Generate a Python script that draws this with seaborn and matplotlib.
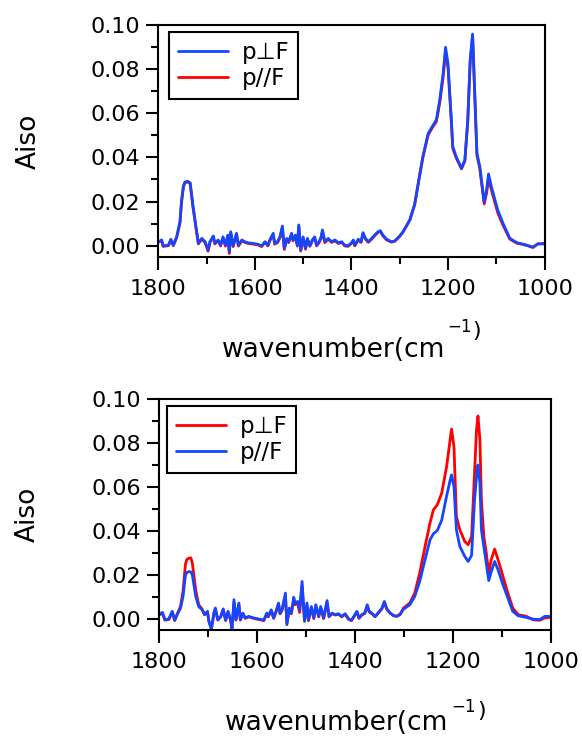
import matplotlib
matplotlib.use("Agg")
import matplotlib.pyplot as plt
import seaborn as sns
import pandas as pd
from matplotlib.ticker import MultipleLocator, FormatStrFormatter

# ---------------- data ----------------
top_wavenumber = [
    1800, 1793, 1790, 1779, 1774, 1769, 1762, 1755, 1752, 1748,
    1745, 1740, 1734, 1728, 1721, 1717, 1710, 1703, 1697, 1693,
    1686, 1683, 1676, 1671, 1666, 1661, 1656, 1653, 1650, 1645,
    1638, 1634, 1627, 1621, 1614, 1603, 1593, 1586, 1579, 1573,
    1569, 1562, 1559, 1553, 1548, 1543, 1539, 1534, 1530, 1524,
    1521, 1516, 1512, 1509, 1505, 1500, 1495, 1491, 1486, 1481,
    1476, 1472, 1467, 1463, 1460, 1455, 1448, 1441, 1434, 1427,
    1420, 1414, 1407, 1400, 1396, 1393, 1386, 1380, 1376, 1371,
    1365, 1358, 1352, 1345, 1340, 1335, 1327, 1317, 1310, 1300,
    1293, 1279, 1269, 1259, 1252, 1241, 1232, 1224, 1217, 1210,
    1205, 1200, 1193, 1190, 1183, 1172, 1165, 1159, 1154, 1149,
    1145, 1140, 1134, 1125, 1120, 1116, 1110, 1097, 1086, 1072,
    1058, 1038, 1024, 1014, 1003, 1000,
]
top_perp = [
    0.0018, 0.0026, -0.0001, 0.0002, 0.0029, 0.0002, 0.0040, 0.0110, 0.0200, 0.0270,
    0.0288, 0.0292, 0.0285, 0.0177, 0.0070, 0.0011, 0.0033, 0.0018, -0.0020, 0.0018,
    0.0044, 0.0011, 0.0026, 0.0002, 0.0040, 0.0002, 0.0048, -0.0027, 0.0063, 0.0000,
    0.0056, 0.0002, 0.0026, 0.0018, 0.0013, 0.0010, 0.0006, -0.0001, 0.0018, 0.0002,
    0.0026, 0.0056, 0.0010, 0.0018, 0.0040, 0.0089, -0.0012, 0.0033, 0.0018, 0.0056,
    0.0026, 0.0048, 0.0002, 0.0094, -0.0020, 0.0040, -0.0012, 0.0033, 0.0000, 0.0026,
    0.0040, 0.0002, 0.0018, 0.0037, 0.0071, 0.0018, 0.0033, 0.0018, 0.0026, 0.0013,
    0.0018, 0.0002, 0.0000, 0.0013, 0.0026, 0.0002, 0.0029, 0.0018, 0.0059, 0.0033,
    0.0018, 0.0033, 0.0048, 0.0063, 0.0068, 0.0048, 0.0029, 0.0018, 0.0022, 0.0044,
    0.0063, 0.0116, 0.0185, 0.0313, 0.0403, 0.0509, 0.0542, 0.0570, 0.0660, 0.0781,
    0.0899, 0.0826, 0.0570, 0.0449, 0.0403, 0.0351, 0.0388, 0.0570, 0.0841, 0.0959,
    0.0720, 0.0419, 0.0358, 0.0199, 0.0252, 0.0325, 0.0267, 0.0162, 0.0101, 0.0034,
    0.0014, 0.0003, -0.0007, 0.0008, 0.0008, 0.0008,
]
top_para = [
    0.0016, 0.0022, -0.0003, 0.0000, 0.0025, 0.0000, 0.0036, 0.0105, 0.0195, 0.0266,
    0.0284, 0.0290, 0.0281, 0.0172, 0.0066, 0.0008, 0.0030, 0.0014, -0.0025, 0.0015,
    0.0040, 0.0008, 0.0022, -0.0001, 0.0036, -0.0002, 0.0044, -0.0035, 0.0058, -0.0004,
    0.0052, -0.0002, 0.0022, 0.0015, 0.0010, 0.0007, 0.0003, -0.0004, 0.0015, -0.0001,
    0.0022, 0.0050, 0.0007, 0.0014, 0.0036, 0.0082, -0.0017, 0.0029, 0.0014, 0.0050,
    0.0022, 0.0042, -0.0002, 0.0086, -0.0024, 0.0035, -0.0016, 0.0029, -0.0003, 0.0022,
    0.0035, -0.0001, 0.0014, 0.0033, 0.0065, 0.0014, 0.0029, 0.0015, 0.0022, 0.0010,
    0.0015, -0.0001, -0.0003, 0.0010, 0.0022, -0.0001, 0.0025, 0.0015, 0.0055, 0.0030,
    0.0015, 0.0030, 0.0045, 0.0060, 0.0065, 0.0045, 0.0026, 0.0016, 0.0020, 0.0042,
    0.0062, 0.0117, 0.0188, 0.0316, 0.0400, 0.0502, 0.0536, 0.0562, 0.0648, 0.0765,
    0.0875, 0.0810, 0.0560, 0.0441, 0.0398, 0.0348, 0.0384, 0.0562, 0.0832, 0.0953,
    0.0712, 0.0410, 0.0348, 0.0189, 0.0238, 0.0303, 0.0252, 0.0150, 0.0093, 0.0030,
    0.0012, 0.0002, -0.0008, 0.0008, 0.0010, 0.0010,
]

bottom_wavenumber = [
    1800, 1793, 1788, 1780, 1773, 1768, 1763, 1756, 1751, 1746,
    1743, 1739, 1735, 1732, 1725, 1719, 1712, 1707, 1701, 1698,
    1693, 1688, 1685, 1680, 1674, 1669, 1664, 1659, 1654, 1651,
    1647, 1643, 1637, 1634, 1629, 1624, 1617, 1607, 1597, 1586,
    1580, 1577, 1571, 1566, 1562, 1556, 1553, 1549, 1542, 1539,
    1534, 1530, 1525, 1522, 1517, 1513, 1508, 1503, 1498, 1495,
    1489, 1484, 1480, 1474, 1470, 1464, 1457, 1453, 1447, 1440,
    1434, 1427, 1420, 1413, 1407, 1400, 1396, 1392, 1386, 1380,
    1375, 1371, 1366, 1359, 1352, 1345, 1340, 1335, 1328, 1321,
    1315, 1308, 1301, 1288, 1278, 1268, 1257, 1247, 1240, 1232,
    1223, 1213, 1206, 1203, 1198, 1193, 1186, 1176, 1169, 1162,
    1156, 1152, 1149, 1145, 1142, 1137, 1132, 1127, 1122, 1115,
    1108, 1098, 1088, 1078, 1067, 1050, 1037, 1023, 1013, 1006,
    1000,
]
bottom_perp = [
    0.0018, 0.0027, -0.0005, -0.0002, 0.0032, -0.0007, 0.0022, 0.0058, 0.0125, 0.0250,
    0.0272, 0.0277, 0.0278, 0.0255, 0.0130, 0.0065, 0.0045, 0.0020, 0.0032, -0.0013,
    -0.0040, 0.0025, 0.0045, -0.0005, 0.0010, 0.0042, -0.0007, 0.0032, -0.0005, -0.0038,
    0.0075, -0.0005, 0.0065, -0.0005, 0.0024, 0.0003, 0.0010, 0.0003, -0.0002, -0.0007,
    0.0024, 0.0010, 0.0038, 0.0003, 0.0027, 0.0066, 0.0024, 0.0038, 0.0105, -0.0020,
    0.0045, 0.0024, 0.0088, 0.0065, 0.0072, 0.0030, 0.0150, -0.0005, 0.0062, -0.0008,
    0.0050, 0.0002, 0.0058, 0.0010, 0.0050, 0.0002, 0.0076, 0.0010, 0.0024, 0.0018,
    0.0022, 0.0010, 0.0022, -0.0002, -0.0007, 0.0018, 0.0032, 0.0003, 0.0018, 0.0025,
    0.0060, 0.0032, 0.0025, 0.0010, 0.0028, 0.0047, 0.0075, 0.0044, 0.0026, 0.0015,
    0.0013, 0.0022, 0.0050, 0.0073, 0.0118, 0.0209, 0.0330, 0.0436, 0.0497, 0.0520,
    0.0573, 0.0694, 0.0815, 0.0864, 0.0785, 0.0466, 0.0406, 0.0353, 0.0338, 0.0375,
    0.0664, 0.0860, 0.0924, 0.0815, 0.0542, 0.0375, 0.0300, 0.0209, 0.0270, 0.0318,
    0.0270, 0.0194, 0.0118, 0.0050, 0.0020, 0.0012, -0.0003, -0.0006, 0.0005, 0.0007,
    0.0007,
]
bottom_para = [
    0.0020, 0.0030, -0.0003, 0.0000, 0.0035, -0.0005, 0.0020, 0.0050, 0.0103, 0.0200,
    0.0212, 0.0216, 0.0214, 0.0201, 0.0103, 0.0057, 0.0042, 0.0020, 0.0035, -0.0011,
    -0.0049, 0.0027, 0.0050, -0.0003, 0.0012, 0.0046, -0.0005, 0.0035, -0.0003, -0.0049,
    0.0088, -0.0003, 0.0073, -0.0003, 0.0027, 0.0005, 0.0012, 0.0005, 0.0000, -0.0005,
    0.0027, 0.0012, 0.0042, 0.0005, 0.0030, 0.0073, 0.0027, 0.0042, 0.0118, -0.0026,
    0.0050, 0.0027, 0.0099, 0.0073, 0.0080, 0.0042, 0.0171, -0.0011, 0.0073, -0.0003,
    0.0057, 0.0005, 0.0065, 0.0012, 0.0057, 0.0005, 0.0084, 0.0012, 0.0027, 0.0020,
    0.0024, 0.0012, 0.0024, 0.0000, -0.0005, 0.0020, 0.0035, 0.0005, 0.0020, 0.0027,
    0.0065, 0.0035, 0.0027, 0.0012, 0.0030, 0.0050, 0.0080, 0.0046, 0.0027, 0.0015,
    0.0012, 0.0020, 0.0045, 0.0065, 0.0103, 0.0171, 0.0270, 0.0360, 0.0388, 0.0403,
    0.0450, 0.0560, 0.0630, 0.0656, 0.0603, 0.0406, 0.0330, 0.0285, 0.0262, 0.0290,
    0.0542, 0.0648, 0.0701, 0.0618, 0.0406, 0.0330, 0.0255, 0.0175, 0.0215, 0.0262,
    0.0224, 0.0156, 0.0095, 0.0035, 0.0015, 0.0007, 0.0000, -0.0003, 0.0012, 0.0012,
    0.0012,
]

label_perp = "p⊥F"
label_para = "p//F"
x_ticks = [1800, 1600, 1400, 1200, 1000]
y_ticks = [0.00, 0.02, 0.04, 0.06, 0.08, 0.10]

BLUE = "#1446ff"
RED = "#ff0000"

# ---------------- style ----------------
sns.set_style("ticks")
plt.rcParams["font.family"] = ["DejaVu Sans"]
plt.rcParams["axes.linewidth"] = 1.5
plt.rcParams["text.color"] = "black"
plt.rcParams["axes.labelcolor"] = "black"
plt.rcParams["xtick.color"] = "black"
plt.rcParams["ytick.color"] = "black"
plt.rcParams["axes.edgecolor"] = "black"

fig = plt.figure(figsize=(5.82, 7.36), dpi=100)
ax_top = fig.add_axes([0.2720, 0.6512, 0.6636, 0.3148])
ax_bot = fig.add_axes([0.2732, 0.1440, 0.6735, 0.3135])

df_top = pd.DataFrame({"w": top_wavenumber, "perp": top_perp, "para": top_para})
df_bot = pd.DataFrame({"w": bottom_wavenumber, "perp": bottom_perp, "para": bottom_para})

LW = 2.0
# top: red (p//F) under blue (p⊥F)
sns.lineplot(data=df_top, x="w", y="para", ax=ax_top, color=RED, lw=LW,
             estimator=None, sort=False, label=label_para)
sns.lineplot(data=df_top, x="w", y="perp", ax=ax_top, color=BLUE, lw=LW,
             estimator=None, sort=False, label=label_perp)
# bottom: red (p⊥F) under blue (p//F)
sns.lineplot(data=df_bot, x="w", y="perp", ax=ax_bot, color=RED, lw=LW,
             estimator=None, sort=False, label=label_perp)
sns.lineplot(data=df_bot, x="w", y="para", ax=ax_bot, color=BLUE, lw=LW,
             estimator=None, sort=False, label=label_para)


def style_axes(ax, legend_order, anchor, lab_pos, sup_pos):
    ax.set_xlim(1800, 1000)
    ax.set_ylim(-0.005, 0.1)
    ax.set_xticks(x_ticks)
    ax.set_yticks(y_ticks)
    ax.xaxis.set_minor_locator(MultipleLocator(100))
    ax.yaxis.set_minor_locator(MultipleLocator(0.01))
    ax.yaxis.set_major_formatter(FormatStrFormatter("%.2f"))
    ax.tick_params(axis="both", which="major", direction="out", length=9,
                   width=1.5, labelsize=16, color="black", labelcolor="black")
    ax.tick_params(axis="both", which="minor", direction="out", length=5,
                   width=1.5, color="black")
    ax.tick_params(axis="x", which="major", pad=7)
    ax.tick_params(axis="y", which="major", pad=4)
    ax.tick_params(top=False, right=False, which="both")
    for s in ax.spines.values():
        s.set_visible(True)
        s.set_linewidth(1.5)
        s.set_color("black")

    ax.set_ylabel("Aiso", fontsize=19, color="black")
    ax.yaxis.label.set_va("center")
    ax.yaxis.set_label_coords(-0.335, 0.5)

    ax.set_xlabel("wavenumber(cm", fontsize=19, color="black")
    ax.xaxis.label.set_ha("right")
    ax.xaxis.label.set_va("baseline")
    ax.xaxis.set_label_coords(lab_pos[0], lab_pos[1])
    sup = ax.text(sup_pos[0], sup_pos[1], "\u22121", transform=ax.transAxes,
                  ha="left", va="baseline", fontsize=12, color="black")
    ax.annotate(")", xy=(1, 0), xycoords=sup, xytext=(0.5, -1.0),
                textcoords="offset points", ha="left", va="baseline",
                fontsize=16, color="black")

    handles, labels = ax.get_legend_handles_labels()
    hmap = dict(zip(labels, handles))
    leg = ax.legend([hmap[l] for l in legend_order], legend_order,
                    loc="upper left", bbox_to_anchor=anchor, borderaxespad=0,
                    fontsize=16.5, handlelength=2.15, handletextpad=0.6,
                    borderpad=0.4, labelspacing=0.12, frameon=True,
                    fancybox=False, framealpha=1, edgecolor="black")
    leg.get_frame().set_linewidth(1.5)
    for t in leg.get_texts():
        t.set_color("black")


style_axes(ax_top, [label_perp, label_para], (0.0285, 0.9698),
           (0.7424, -0.4316), (0.7475, -0.3237))
style_axes(ax_bot, [label_perp, label_para], (0.0212, 0.971),
           (0.738, -0.4335), (0.7467, -0.3541))

fig.savefig("out.png", dpi=100)
